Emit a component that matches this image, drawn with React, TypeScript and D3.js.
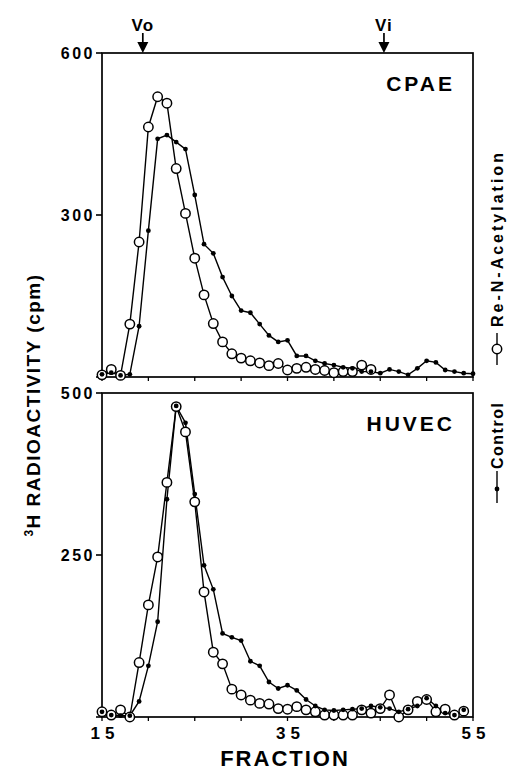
import React from "react";
import * as d3 from "d3";

const WIDTH = 526;
const HEIGHT = 775;
const FONT = "'Liberation Sans', Arial, Helvetica, sans-serif";

// fraction numbers on the x axis
const FRACTIONS = [15, 16, 17, 18, 19, 20, 21, 22, 23, 24, 25, 26, 27, 28, 29, 30, 31, 32, 33, 34, 35,
  36, 37, 38, 39, 40, 41, 42, 43, 44, 45, 46, 47, 48, 49, 50, 51, 52, 53, 54, 55];
const X_TICKS = [15, 20, 25, 30, 35, 40, 45, 50, 55];
const X_LABELS = [15, 35, 55];

// CPAE panel (cpm), values start at fraction 15
const CPAE_CONTROL = [5, 8, 3, 5, 94, 271, 441, 448, 435, 422, 337, 246, 229, 185, 150, 123, 119, 98, 77, 65,
  68, 39, 39, 30, 25, 22, 18, 16, 10, 10, 7, 14, 10, 4, 16, 30, 27, 13, 10, 7, 6];
const CPAE_RENAC = [4, 14, 3, 98, 250, 463, 519, 507, 386, 303, 220, 152, 99, 65, 43, 35, 30, 26, 21, 25,
  13, 16, 18, 14, 12, 8, 10, 10, 22, 14];
const CPAE_TICKS = [0, 300, 600];
const CPAE_LABELS = [300, 600];

// HUVEC panel (cpm)
const HUVEC_CONTROL = [8, 3, 2, 2, 24, 79, 147, 336, 480, 454, 344, 234, 197, 129, 123, 118, 86, 79, 54, 44,
  49, 41, 27, 17, 11, 10, 11, 12, 13, 17, 15, 13, 8, 12, 17, 29, 17, 6, 3, 11];
const HUVEC_RENAC = [8, 3, 11, 0, 84, 173, 247, 362, 479, 440, 332, 193, 100, 82, 43, 34, 26, 21, 20, 13,
  12, 16, 11, 8, 3, 3, 3, 3, 11, 6, 13, 34, 0, 11, 24, 27, 8, 12, 3, 9];
const HUVEC_TICKS = [0, 250, 500];
const HUVEC_LABELS = [250, 500];

// void / included volume markers (fraction)
const MARKERS = [
  { label: "Vo", fraction: 19.4 },
  { label: "Vi", fraction: 45.4 },
];

const X_SCALE = d3.scaleLinear().domain([15, 55]).range([102, 473]);
const Y_CPAE = d3.scaleLinear().domain([0, 600]).range([377, 53]);
const Y_HUVEC = d3.scaleLinear().domain([0, 500]).range([717, 393]);

const toPoints = (values: number[]) =>
  values.map((v, i) => ({ x: FRACTIONS[i], y: v }));

const Panel = ({ yScale, control, renac, ticks, labels, name, nameY }: any) => {
  const line = d3
    .line<{ x: number; y: number }>()
    .x((d) => X_SCALE(d.x))
    .y((d) => yScale(d.y));
  const [x0, x1] = X_SCALE.range();
  const [yb, yt] = yScale.range();
  const ctrl = toPoints(control);
  const ren = toPoints(renac);
  return (
    <g>
      <rect x={x0} y={yt} width={x1 - x0} height={yb - yt} fill="none" stroke="#000" strokeWidth={1.7} />
      {X_TICKS.map((t) => (
        <line key={t} x1={X_SCALE(t)} x2={X_SCALE(t)} y1={yb} y2={yb + 4} stroke="#000" strokeWidth={1.3} />
      ))}
      {ticks.map((t: number) => (
        <line key={t} x1={x0 - 6} x2={x0} y1={yScale(t)} y2={yScale(t)} stroke="#000" strokeWidth={1.6} />
      ))}
      {labels.map((t: number) => (
        <text key={t} x={x0 - 7} y={yScale(t)} dy="0.36em" textAnchor="end" fontFamily={FONT}
          fontWeight="bold" fontSize={16} letterSpacing={2.5}>
          {t}
        </text>
      ))}
      <path d={line(ctrl) || ""} fill="none" stroke="#000" strokeWidth={1.4} />
      <path d={line(ren) || ""} fill="none" stroke="#000" strokeWidth={1.4} />
      {ren.map((d, i) => (
        <circle key={"r" + i} cx={X_SCALE(d.x)} cy={yScale(d.y)} r={4.7} fill="#fff" stroke="#000" strokeWidth={1.5} />
      ))}
      {ctrl.map((d, i) => (
        <circle key={"c" + i} cx={X_SCALE(d.x)} cy={yScale(d.y)} r={2.4} fill="#000" />
      ))}
      <text x={455} y={nameY} textAnchor="end" fontFamily={FONT} fontWeight="bold" fontSize={21} letterSpacing={3}>
        {name}
      </text>
    </g>
  );
};

export default function App() {
  const yt = Y_CPAE.range()[1];
  return (
    <svg width={WIDTH} height={HEIGHT} style={{ position: "absolute", left: 0, top: 0, background: "#fff" }}>
      <rect width={WIDTH} height={HEIGHT} fill="#fff" />
      <Panel yScale={Y_CPAE} control={CPAE_CONTROL} renac={CPAE_RENAC} ticks={CPAE_TICKS}
        labels={CPAE_LABELS} name="CPAE" nameY={91} />
      <Panel yScale={Y_HUVEC} control={HUVEC_CONTROL} renac={HUVEC_RENAC} ticks={HUVEC_TICKS}
        labels={HUVEC_LABELS} name="HUVEC" nameY={431} />

      {/* Vo / Vi arrows */}
      {MARKERS.map((m) => {
        const x = X_SCALE(m.fraction);
        return (
          <g key={m.label}>
            <text x={x} y={31} textAnchor="middle" fontFamily={FONT} fontWeight="bold" fontSize={17} letterSpacing={1}>
              {m.label}
            </text>
            <line x1={x} x2={x} y1={33} y2={44} stroke="#000" strokeWidth={1.7} />
            <path d={`M${x - 5.5},${yt - 11} L${x + 5.5},${yt - 11} L${x},${yt} Z`} fill="#000" />
          </g>
        );
      })}

      {/* x axis labels */}
      {X_LABELS.map((t) => (
        <text key={t} x={X_SCALE(t) + 3} y={739} textAnchor="middle" fontFamily={FONT} fontWeight="bold"
          fontSize={17} letterSpacing={5}>
          {t}
        </text>
      ))}
      <text x={285} y={766} textAnchor="middle" fontFamily={FONT} fontWeight="bold" fontSize={22} letterSpacing={2}>
        FRACTION
      </text>

      {/* y axis title */}
      <text transform="translate(40,405) rotate(-90)" textAnchor="middle" fontFamily={FONT} fontWeight="bold"
        fontSize={19} letterSpacing={1.5}>
        <tspan fontSize={12} dy={-7}>3</tspan>
        <tspan dy={7}>H RADIOACTIVITY (cpm)</tspan>
      </text>

      {/* legend */}
      <g transform="translate(497,365) rotate(-90)">
        <line x1={0} x2={32} y1={0} y2={0} stroke="#000" strokeWidth={1.4} />
        <circle cx={16} cy={0} r={4.7} fill="#fff" stroke="#000" strokeWidth={1.5} />
        <text x={38} y={0} dy="0.36em" fontFamily={FONT} fontWeight="bold" fontSize={16} letterSpacing={3}>
          Re-N-Acetylation
        </text>
      </g>
      <g transform="translate(497,503) rotate(-90)">
        <line x1={0} x2={32} y1={0} y2={0} stroke="#000" strokeWidth={1.4} />
        <circle cx={14} cy={0} r={2.4} fill="#000" />
        <text x={34} y={0} dy="0.36em" fontFamily={FONT} fontWeight="bold" fontSize={16} letterSpacing={1.5}>
          Control
        </text>
      </g>
    </svg>
  );
}
